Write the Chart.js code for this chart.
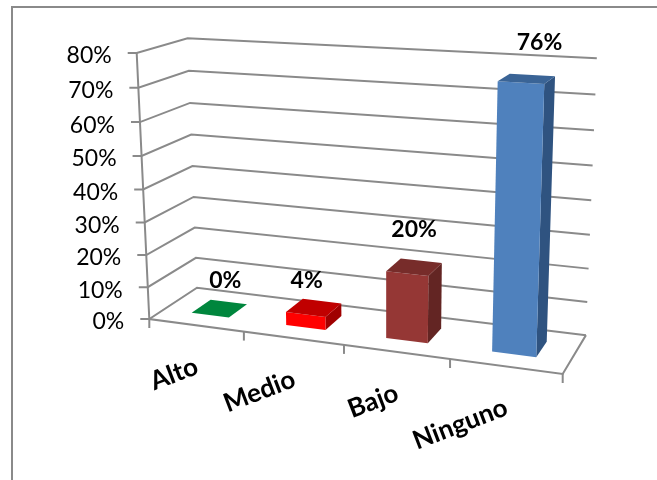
<!DOCTYPE html>
<html><head><meta charset="utf-8">
<script src="https://cdn.jsdelivr.net/npm/chart.js@4"></script>
<style>html,body{margin:0;padding:0;background:#fff}canvas{display:block}</style>
</head><body><canvas id="c" width="657" height="480"></canvas>
<script>
const categories = ['Alto', 'Medio', 'Bajo', 'Ninguno'];
const values = [0, 4, 20, 76];
const valueLabels = ['0%', '4%', '20%', '76%'];
const frontColors = ['#00863D', '#FF0000', '#953735', '#4F81BD'];
const topColors = ['#00863D', '#C00000', '#772C2A', '#3A6496'];
const sideColors = ['#00863D', '#A00000', '#632523', '#2F5380'];
const yTicks = [0, 10, 20, 30, 40, 50, 60, 70, 80];

// perspective frame of the 3-D box (view settings only)
const O = [149.3, 319], RX = [562.7, 374], UP = [136.7, 53], BK = [197, 287.7];
const E = -0.11, F = -0.05, G = 0.0694;
function proj(c, h, d) {
  const w = 1 + E * c + F * h + G * d;
  const p = [0, 1].map(i => O[i]
    + c * ((1 + E) * RX[i] - O[i])
    + h * ((1 + F) * UP[i] - O[i])
    + d * ((1 + G) * BK[i] - O[i]));
  return [p[0] / w, p[1] / w];
}
const DEPTH0 = 0.30, DEPTH1 = 0.71;
const GRAY = '#8A8A8A';
const labelNudge = [[6, -28], [-7, -27], [0, -38], [13, -36]];

function line(ctx, pts, color, lw) {
  ctx.beginPath();
  pts.forEach((p, i) => i ? ctx.lineTo(p[0], p[1]) : ctx.moveTo(p[0], p[1]));
  ctx.strokeStyle = color; ctx.lineWidth = lw; ctx.stroke();
}
function face(ctx, pts, color) {
  ctx.beginPath();
  pts.forEach((p, i) => i ? ctx.lineTo(p[0], p[1]) : ctx.moveTo(p[0], p[1]));
  ctx.closePath(); ctx.fillStyle = color; ctx.fill();
}

const box3d = {
  id: 'box3d',
  beforeDatasetsDraw(chart) {
    const ctx = chart.ctx, a = chart.chartArea, ys = chart.scales.y, xs = chart.scales.x;
    const hOf = v => (a.bottom - ys.getPixelForValue(v)) / a.height;
    ctx.save();
    line(ctx, [[12, 480], [12, 7], [657, 7]], GRAY, 2);
    yTicks.forEach(v => {
      const h = hOf(v), f = proj(0, h, 0);
      line(ctx, [[f[0] - 9, f[1]], f, proj(0, h, 1), proj(1, h, 1)], GRAY, 2);
      ctx.font = '23px Lato'; ctx.fillStyle = '#000';
      ctx.textAlign = 'right'; ctx.textBaseline = 'middle';
      ctx.fillText(v + '%', f[0] - 25, f[1] + 3);
    });
    line(ctx, [proj(0, 1, 0), proj(0, 0, 0), proj(1, 0, 0), proj(1, 0, 1)], GRAY, 2);
    for (let i = 0; i <= categories.length; i++) {
      const p = proj(i / categories.length, 0, 0);
      line(ctx, [p, [p[0], p[1] + 9]], GRAY, 2);
    }
    categories.forEach((t, i) => {
      const c = (xs.getPixelForValue(i) - a.left) / a.width, p = proj(c, 0, 0);
      ctx.save();
      ctx.translate(p[0] + 1, p[1] + 40);
      ctx.rotate(-21 * Math.PI / 180);
      ctx.font = 'bold 26px Lato'; ctx.fillStyle = '#000';
      ctx.textAlign = 'right'; ctx.textBaseline = 'middle';
      ctx.fillText(t, 0, 0);
      ctx.restore();
    });
    ctx.restore();
  },
  beforeDatasetDraw(chart, args) {
    const ctx = chart.ctx, a = chart.chartArea;
    args.meta.data.forEach((el, i) => {
      const c0 = (el.x - el.width / 2 - a.left) / a.width, c1 = (el.x + el.width / 2 - a.left) / a.width;
      const h = (a.bottom - el.y) / a.height, b = (a.bottom - el.base) / a.height;
      const P = (c, hh, d) => proj(c, hh, d);
      if (h > b) {
        face(ctx, [P(c1, b, DEPTH0), P(c1, b, DEPTH1), P(c1, h, DEPTH1), P(c1, h, DEPTH0)], sideColors[i]);
        face(ctx, [P(c0, b, DEPTH0), P(c1, b, DEPTH0), P(c1, h, DEPTH0), P(c0, h, DEPTH0)], frontColors[i]);
      }
      face(ctx, [P(c0, h, DEPTH0), P(c1, h, DEPTH0), P(c1, h, DEPTH1), P(c0, h, DEPTH1)], topColors[i]);
      const m = P((c0 + c1) / 2, h, 0.5);
      ctx.save();
      ctx.font = 'bold 23px Lato'; ctx.fillStyle = '#000';
      ctx.textAlign = 'center'; ctx.textBaseline = 'middle';
      ctx.fillText(valueLabels[i], m[0] + labelNudge[i][0], m[1] + labelNudge[i][1]);
      ctx.restore();
    });
    return false;
  }
};

new Chart(document.getElementById('c'), {
  type: 'bar',
  plugins: [box3d],
  data: { labels: categories, datasets: [{ data: values, backgroundColor: frontColors }] },
  options: {
    responsive: false, animation: false,
    layout: { padding: { left: 100, right: 100, top: 50, bottom: 100 } },
    categoryPercentage: 0.40, barPercentage: 1,
    plugins: { legend: { display: false }, tooltip: { enabled: false } },
    scales: {
      x: { display: false },
      y: { display: false, min: 0, max: 80, ticks: { stepSize: 10 } }
    }
  }
});
</script></body></html>
